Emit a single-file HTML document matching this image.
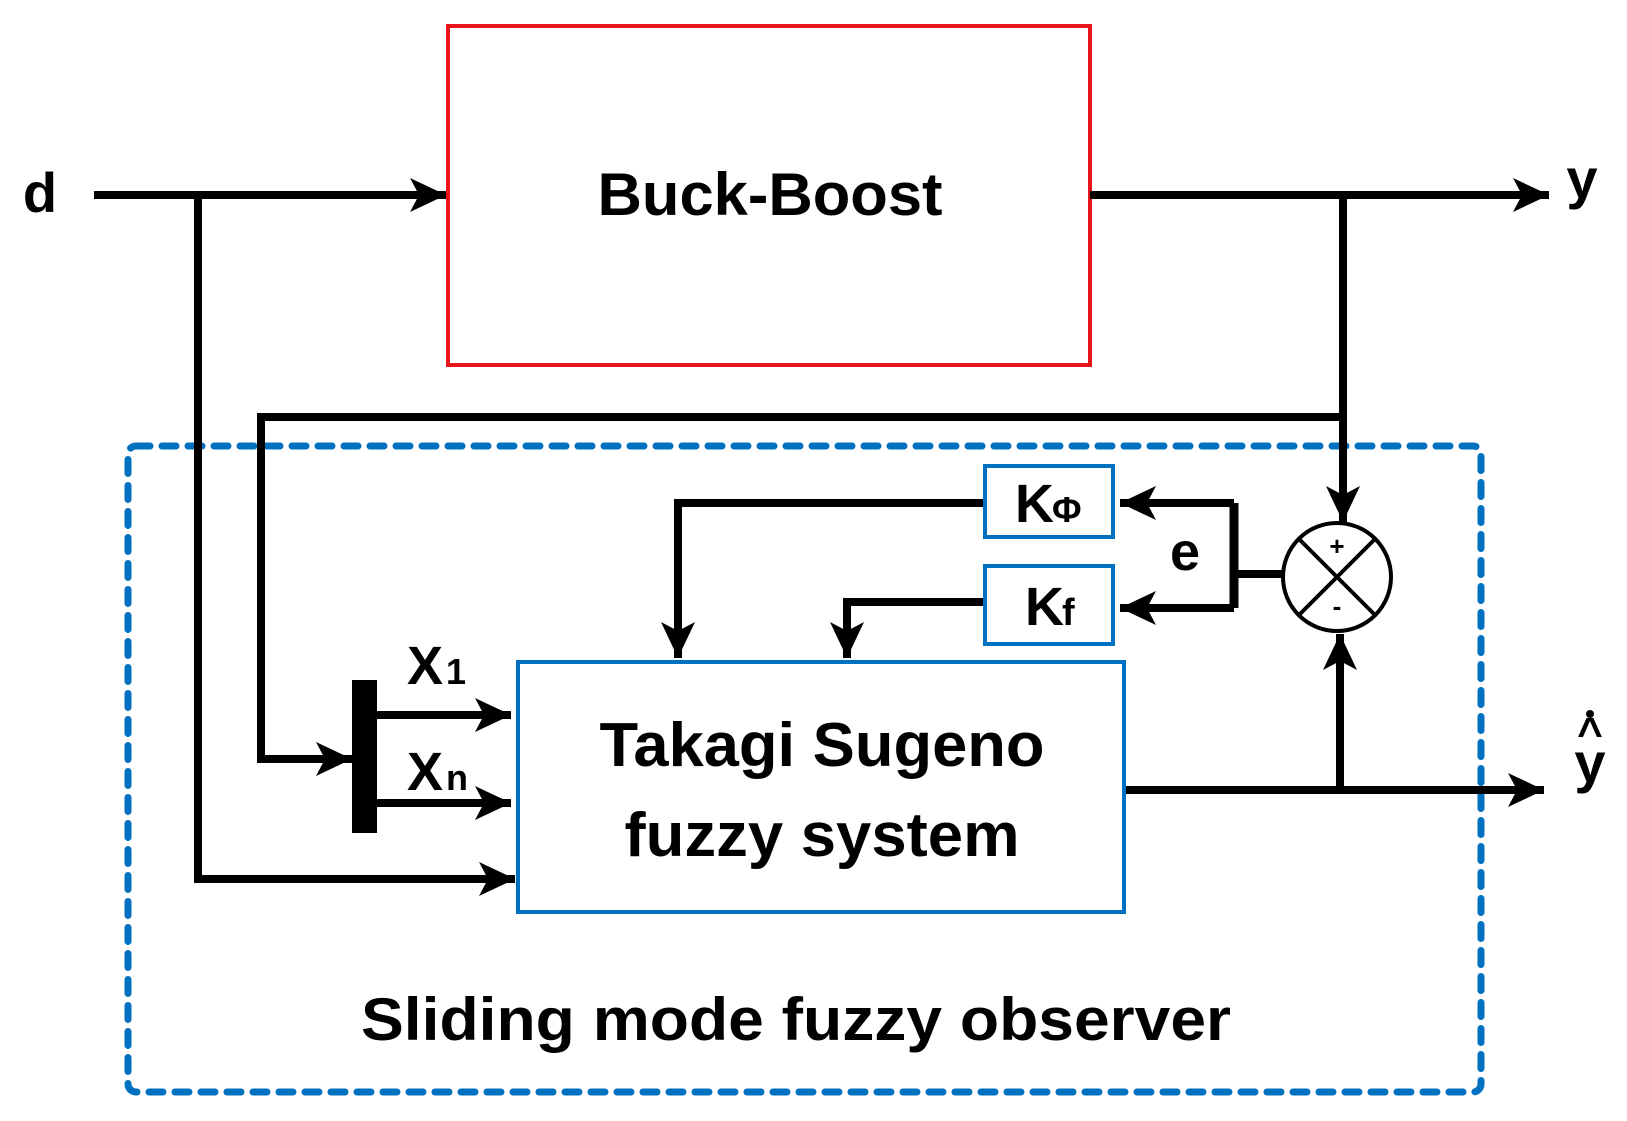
<!DOCTYPE html>
<html><head><meta charset="utf-8"><style>html,body{margin:0;padding:0;background:#fff}svg{display:block}</style></head>
<body>
<svg width="1627" height="1121" viewBox="0 0 1627 1121" xmlns="http://www.w3.org/2000/svg">
<defs>
<marker id="a" markerUnits="userSpaceOnUse" markerWidth="40" markerHeight="38" refX="36" refY="19" orient="auto">
<path d="M0,2 L36,19 L0,36 L9,19 Z" fill="#000"/>
</marker>
</defs>
<g font-family="'Liberation Sans', sans-serif" font-weight="bold" fill="#000">
<rect x="448" y="26" width="642" height="339" fill="none" stroke="#e8141c" stroke-width="4"/>
<text x="770" y="215" font-size="60" text-anchor="middle" textLength="345" lengthAdjust="spacingAndGlyphs">Buck-Boost</text>
<rect x="128" y="446" width="1353" height="646" rx="8" fill="none" stroke="#0070c0" stroke-width="7" stroke-dasharray="14 12" stroke-linecap="round"/>
<g stroke="#000" stroke-width="8" fill="none">
<line x1="94" y1="195" x2="446" y2="195" marker-end="url(#a)"/>
<polyline points="198,195 198,879 515,879" marker-end="url(#a)"/>
<line x1="1090" y1="195" x2="1549" y2="195" marker-end="url(#a)"/>
<line x1="1343" y1="195" x2="1343" y2="522" marker-end="url(#a)"/>
<polyline points="1343,417 261,417 261,759 352,759" marker-end="url(#a)"/>
<line x1="377" y1="715" x2="511" y2="715" marker-end="url(#a)"/>
<line x1="377" y1="803" x2="511" y2="803" marker-end="url(#a)"/>
<line x1="1124" y1="790" x2="1544" y2="790" marker-end="url(#a)"/>
<line x1="1340" y1="790" x2="1340" y2="634" marker-end="url(#a)"/>
<line x1="1288" y1="574" x2="1234" y2="574"/>
<polyline points="1234,503 1234,608" stroke-width="9"/>
<line x1="1234" y1="503" x2="1120" y2="503" marker-end="url(#a)"/>
<line x1="1234" y1="608" x2="1120" y2="608" marker-end="url(#a)"/>
<polyline points="985,503 678,503 678,658" marker-end="url(#a)"/>
<polyline points="985,602 847,602 847,658" marker-end="url(#a)"/>
</g>
<rect x="352" y="680" width="25" height="153" fill="#000"/>
<circle cx="1337" cy="577" r="54" fill="#fff" stroke="#000" stroke-width="4"/>
<line x1="1299" y1="539" x2="1375" y2="615" stroke="#000" stroke-width="4"/>
<line x1="1375" y1="539" x2="1299" y2="615" stroke="#000" stroke-width="4"/>
<text x="1337" y="555" font-size="26" text-anchor="middle">+</text>
<text x="1337" y="615" font-size="26" text-anchor="middle">-</text>
<rect x="985" y="466" width="128" height="71" fill="#fff" stroke="#0070c0" stroke-width="4"/>
<rect x="985" y="566" width="128" height="78" fill="#fff" stroke="#0070c0" stroke-width="4"/>
<text x="1015" y="522" font-size="54">K</text><text x="1052" y="522" font-size="36">Φ</text>
<text x="1025" y="625" font-size="54">K</text><text x="1062" y="625" font-size="38">f</text>
<text x="1185" y="570" font-size="54" text-anchor="middle">e</text>
<rect x="518" y="662" width="606" height="250" fill="#fff" stroke="#0070c0" stroke-width="4"/>
<text x="822" y="766" font-size="62" text-anchor="middle" textLength="445" lengthAdjust="spacingAndGlyphs">Takagi Sugeno</text>
<text x="822" y="856" font-size="62" text-anchor="middle" textLength="395" lengthAdjust="spacingAndGlyphs">fuzzy system</text>
<text x="407" y="684" font-size="54">X</text><text x="446" y="684" font-size="36">1</text>
<text x="407" y="790" font-size="54">X</text><text x="446" y="790" font-size="36">n</text>
<text x="40" y="212" font-size="56" text-anchor="middle">d</text>
<text x="1582" y="198" font-size="56" text-anchor="middle">y</text>
<text x="1590" y="782" font-size="56" text-anchor="middle">y</text>
<text x="1590" y="748" font-size="44" text-anchor="middle">^</text>
<circle cx="1590" cy="714" r="4"/>
<text x="796" y="1040" font-size="60" text-anchor="middle" textLength="870" lengthAdjust="spacingAndGlyphs">Sliding mode fuzzy observer</text>
</g>
</svg>
</body></html>
